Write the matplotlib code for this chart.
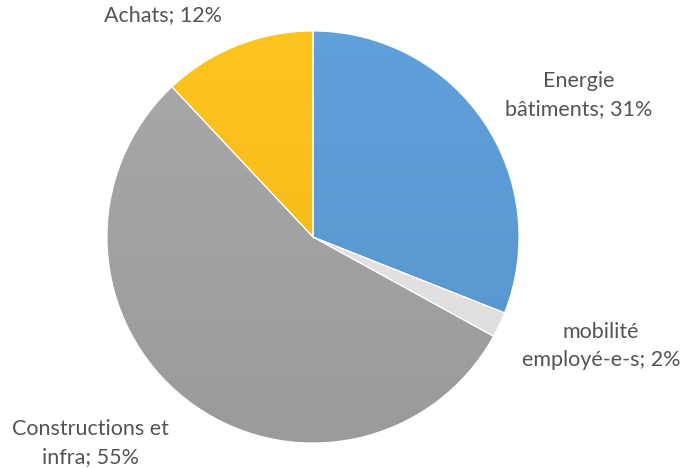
import numpy as np
import matplotlib.pyplot as plt
from matplotlib.colors import to_rgb

# data
labels = ["Energie\nbâtiments", "mobilité\nemployé-e-s", "Constructions et\ninfra", "Achats"]
values = [31, 2, 55, 12]
colors = ["#5B9BD5", "#E6E4E4", "#A3A3A3", "#FBBE1A"]

# label centres in image pixels (x, y from top)
label_pos = [(579, 95), (601, 346), (90, 443), (163, 15)]

W, H = 684, 468
cx, cy, r = 313, H - 237, 206

fig = plt.figure(figsize=(W / 100, H / 100), dpi=100)
ax = fig.add_axes([0, 0, 1, 1])

wedges, _ = ax.pie(values, colors=colors, startangle=90, counterclock=False,
                   center=(cx, cy), radius=r, frame=True,
                   wedgeprops=dict(edgecolor="white", linewidth=0.8))
ax.set_aspect("equal")
ax.axis("off")

# soft vertical gradient like the Excel fill (lighter top, darker bottom)
grad = np.linspace(1, 0, 256)[:, None]
for w, c in zip(wedges, colors):
    base = np.array(to_rgb(c))
    top = np.clip(base * 1.02 + 0.01, 0, 1)
    bot = np.clip(base * 0.95, 0, 1)
    img = (bot[None, None, :] * (1 - grad[..., None]) + top[None, None, :] * grad[..., None])
    img = np.repeat(img, 2, axis=1)
    im = ax.imshow(img, extent=(cx - r, cx + r, cy - r, cy + r), origin="upper",
                   aspect="auto", zorder=w.get_zorder() + 0.1)
    im.set_clip_path(w)
    w.set_zorder(w.get_zorder() + 0.2)
    w.set_facecolor("none")

for lab, v, (x, y) in zip(labels, values, label_pos):
    ax.text(x, H - y, f"{lab}; {v}%", ha="center", va="center", fontsize=15.5,
            family="Lato", color="#545454", linespacing=1.55)

ax.set_xlim(0, W)
ax.set_ylim(0, H)
fig.savefig("out.png", dpi=100)
